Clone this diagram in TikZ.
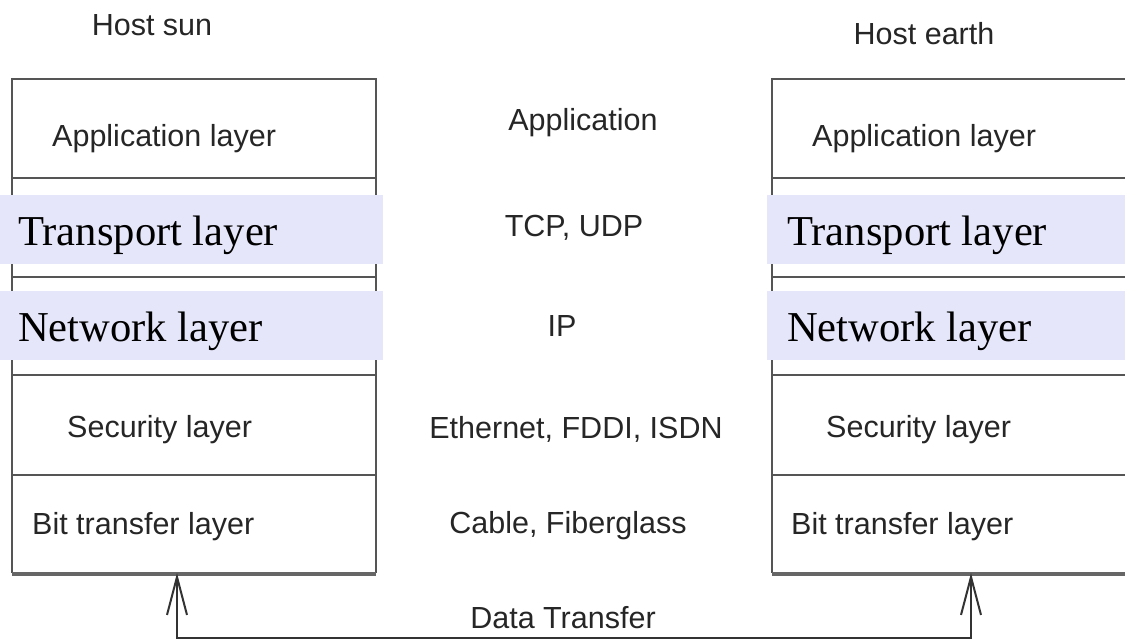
\documentclass[tikz,border=0pt]{standalone}
\usepackage{fontspec}
\setmainfont{Liberation Serif}
\setsansfont{Liberation Sans}
\usetikzlibrary{arrows.meta}
\definecolor{hl}{HTML}{E6E6FA}
\definecolor{ln}{HTML}{555555}
\tikzset{
  cellline/.style={draw=ln, line width=2.4pt},
  botline/.style={draw=ln!90, line width=3.6pt},
  lbl/.style={font=\sffamily\fontsize{30.5}{36}\selectfont, inner sep=0pt, text=black!85},
  lblw/.style={lbl, anchor=west},
  hlbox/.style={fill=hl, draw=none},
  hltext/.style={font=\rmfamily\fontsize{42.6}{48}\selectfont, inner sep=0pt, anchor=west},
  datatrans/.style={draw=black!80, line width=1.6pt, {Straight Barb[length=38pt,width=20pt,line width=2pt]}-{Straight Barb[length=38pt,width=20pt,line width=2pt]}}
}
\begin{document}
\begin{tikzpicture}[x=1pt,y=-1pt]
\useasboundingbox (0,0) rectangle (1125,640);
\fill[white] (0,0) rectangle (1125,640);
% left stack
\draw[cellline] (12,573) -- (12,79) -- (376,79) -- (376,573);
\foreach \yy in {178,277,375,475} \draw[cellline] (12,\yy) -- (376,\yy);
\draw[botline] (12,574) -- (376,574);
% right stack
\draw[cellline] (1140,79) -- (772,79) -- (772,573);
\foreach \yy in {178,277,375,475} \draw[cellline] (772,\yy) -- (1140,\yy);
\draw[botline] (772,574) -- (1140,574);
% host labels
\node[lbl] (hsun) at (152,25) {Host sun};
\node[lbl] (hearth) at (924,34) {Host earth};
% left cells
\node[lblw] (lapp) at (52,139) {Application layer};
\node[lblw] (lsec) at (67,430) {Security layer};
\node[lblw] (lbit) at (32,527) {Bit transfer layer};
% right cells
\node[lblw] (rapp) at (812,139) {Application layer};
\node[lblw] (rsec) at (826,430) {Security layer};
\node[lblw] (rbit) at (791,527) {Bit transfer layer};
% middle
\node[lbl] (mapp) at (583,123) {Application};
\node[lbl] (mtcp) at (574,228) {TCP, UDP};
\node[lbl] (mip) at (562,326) {IP};
\node[lbl] (meth) at (576,429) {Ethernet, FDDI, ISDN};
\node[lbl] (mcab) at (568,526) {Cable, Fiberglass};
\node[lbl] (mdata) at (563,618) {Data Transfer};
% highlights
\fill[hlbox] (0,195) rectangle (383,264);
\fill[hlbox] (0,291) rectangle (383,360);
\fill[hlbox] (767,195) rectangle (1125,264);
\fill[hlbox] (767,291) rectangle (1125,360);
\node[hltext] (ltr) at (18,235) {Transport layer};
\node[hltext] (lnet) at (18,331) {Network layer};
\node[hltext] (rtr) at (787,235) {Transport layer};
\node[hltext] (rnet) at (787,331) {Network layer};
% data transfer connector
\coordinate (la) at (177,573);
\coordinate (ra) at (971,573);
\coordinate (lb) at (177,638);
\coordinate (rb) at (971,638);
\draw[datatrans] (la) -- (lb) -- (rb) -- (ra);
\end{tikzpicture}
\end{document}
